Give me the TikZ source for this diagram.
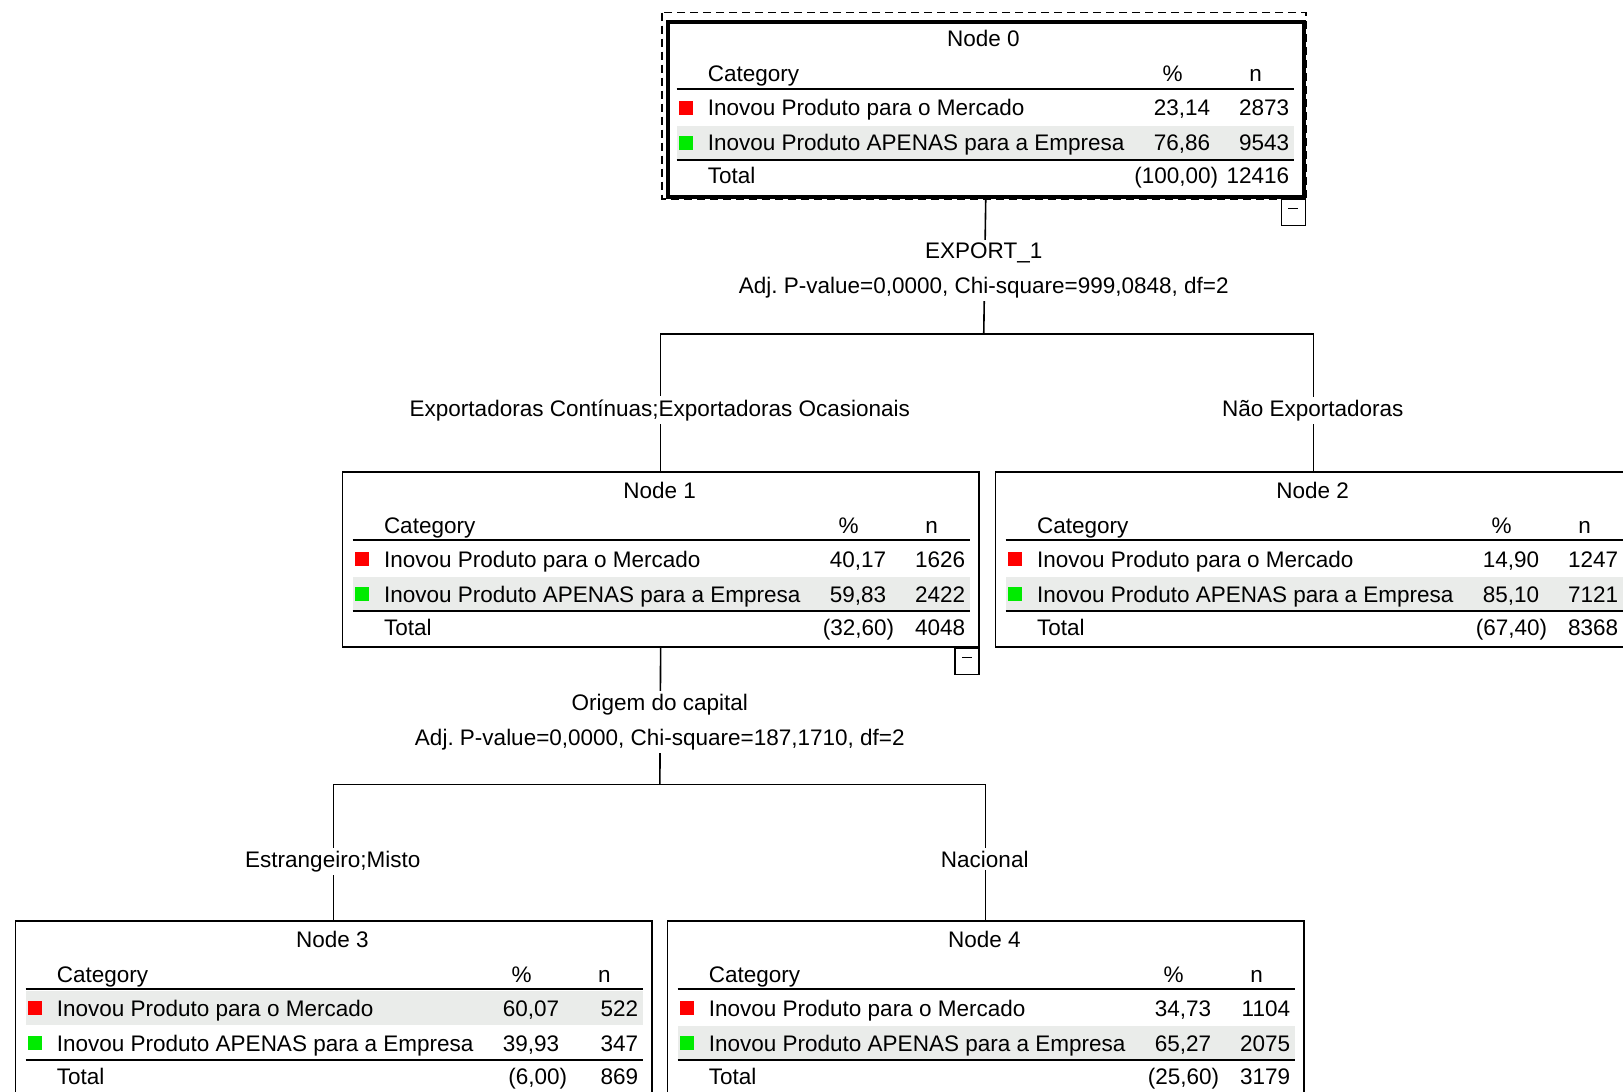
\documentclass[tikz,border=0pt]{standalone}
\usepackage{fontspec}
\setmainfont{Liberation Sans}
\usetikzlibrary{positioning}
\frenchspacing

\definecolor{catred}{RGB}{255,0,0}
\definecolor{catgreen}{RGB}{0,235,0}
\definecolor{rowgrey}{RGB}{234,236,234}

\tikzset{
  catbox/.style={draw, line width=0.8pt, minimum width=318.25pt, minimum height=87.5pt, inner sep=0pt, anchor=north west},
  rootbox/.style={catbox, line width=2pt},
  minusbox/.style={draw, line width=0.7pt, minimum width=12pt, minimum height=13pt, inner sep=0pt, anchor=north east},
  tabrule/.style={line width=1pt},
  tabtext/.style={inner sep=0pt},
  edge/.style={line width=0.8pt},
  splitlab/.style={fill=white, align=center, inner sep=1.5pt, anchor=base}
}

\newcommand{\catrows}[9]{%
  \begin{scope}[shift={(#1.north west)}, every node/.append style={tabtext}]
    \fill[rowgrey] (11,{36+35*#9}) rectangle (628,{70+35*#9});
    \node[anchor=base] (#1title) at (318,27) {#2};
    \node[anchor=base west] (#1cat) at (42,62) {Category};
    \node[anchor=base] (#1pc) at (507,62) {\%};
    \node[anchor=base] (#1nn) at (590,62) {n};
    \draw[tabrule] (11,69) -- (628,69);
    \fill[catred] (13,81) rectangle (27,95);
    \node[anchor=base west] (#1r1) at (42,96) {Inovou Produto para o Mercado};
    \node[anchor=base east] (#1p1) at (545,96) {#3};
    \node[anchor=base east] (#1n1) at (624,96) {#4};
    \fill[catgreen] (13,116) rectangle (27,130);
    \node[anchor=base west] (#1r2) at (42,131) {Inovou Produto APENAS para a Empresa};
    \node[anchor=base east] (#1p2) at (545,131) {#5};
    \node[anchor=base east] (#1n2) at (624,131) {#6};
    \draw[tabrule] (11,140) -- (628,140);
    \node[anchor=base west] (#1tot) at (42,164) {Total};
    \node[anchor=base east] (#1pt) at (553,164) {#7};
    \node[anchor=base east] (#1nt) at (624,164) {#8};
  \end{scope}}

\begin{document}
\begin{tikzpicture}[x=0.5pt, y=-0.5pt, font=\fontsize{11.25}{17.5}\selectfont]
  \useasboundingbox (0,0) rectangle (1623,1092);
  \clip (0,0) rectangle (1623,1092);

  \node[rootbox] (n0) at (665.5,19.5) {};
  \node[catbox] (n1) at (341.6,471) {};
  \node[catbox] (n2) at (994.6,471) {};
  \node[catbox] (n3) at (14.5,920) {};
  \node[catbox] (n4) at (666.5,920) {};

  \draw[dash pattern=on 4pt off 2.5pt, line width=0.8pt] (662,12.5) rectangle (1306,199);
  \node[minusbox] (m0) at (n0.south east) {};
  \node[minusbox] (m1) at (n1.south east) {};
  \draw ([shift={(-5,-4)}]m0.center) -- ([shift={(5,-4)}]m0.center);
  \draw ([shift={(-5,-4)}]m1.center) -- ([shift={(5,-4)}]m1.center);

  \coordinate (s0) at (983.75,334);
  \coordinate (s1) at (659.85,784.5);
  \draw[edge] (n0.south) -- (s0);
  \draw[edge] (n1.north) |- (s0) -| (n2.north);
  \draw[edge] (n1.south) -- (s1);
  \draw[edge] (n3.north) |- (s1) -| (n4.north);

  \node[splitlab] (l0) at (983.75,293.5) {EXPORT\_1\\Adj. P-value=0,0000, Chi-square=999,0848, df=2};
  \node[splitlab] (l1) at (659.85,416) {Exportadoras Contínuas;Exportadoras Ocasionais};
  \node[splitlab] (l2) at (1312.85,416) {Não Exportadoras};
  \node[splitlab] (l3) at (659.85,745) {Origem do capital\\Adj. P-value=0,0000, Chi-square=187,1710, df=2};
  \node[splitlab] (l4) at (332.75,867) {Estrangeiro;Misto};
  \node[splitlab] (l5) at (984.75,867) {Nacional};

  \catrows{n0}{Node 0}{23,14}{2873}{76,86}{9543}{(100,00)}{12416}{2}
  \catrows{n1}{Node 1}{40,17}{1626}{59,83}{2422}{(32,60)}{4048}{2}
  \catrows{n2}{Node 2}{14,90}{1247}{85,10}{7121}{(67,40)}{8368}{2}
  \catrows{n3}{Node 3}{60,07}{522}{39,93}{347}{(6,00)}{869}{1}
  \catrows{n4}{Node 4}{34,73}{1104}{65,27}{2075}{(25,60)}{3179}{2}
\end{tikzpicture}
\end{document}
